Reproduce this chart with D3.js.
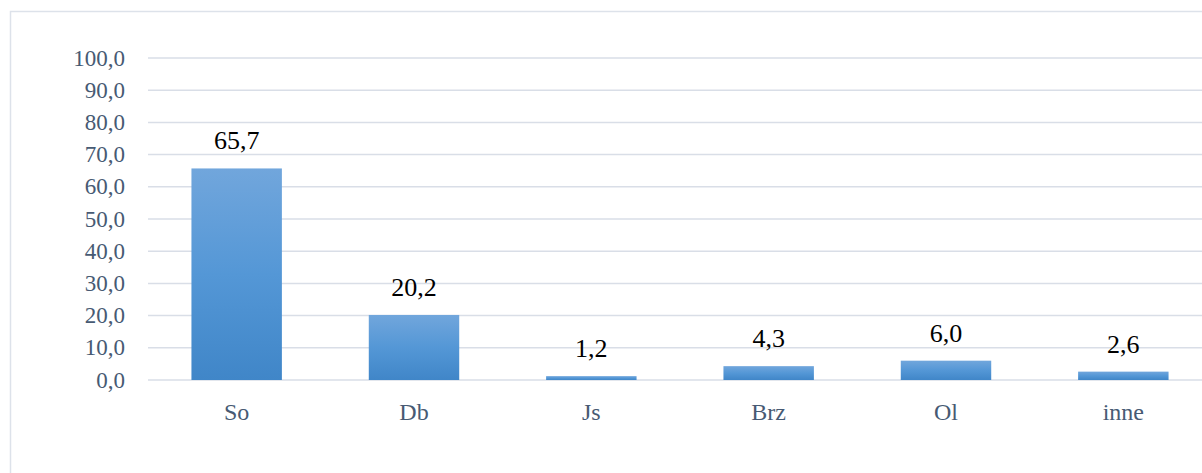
<!DOCTYPE html>
<html>
<head>
<meta charset="utf-8">
<script src="https://cdn.jsdelivr.net/npm/d3@7"></script>
<style>
  body { margin: 0; background: #fff; }
  svg { display: block; }
</style>
</head>
<body>
<div id="chart"></div>
<script>
let chart_width = 1202;
let chart_height = 473;

let categories = ['So', 'Db', 'Js', 'Brz', 'Ol', 'inne'];
let values = [65.7, 20.2, 1.2, 4.3, 6.0, 2.6];
let tick_values = [0, 10, 20, 30, 40, 50, 60, 70, 80, 90, 100];

let fmt = v => v.toFixed(1).replace('.', ',');

let svg = d3.select('#chart')
    .append('svg')
    .attr('width', chart_width)
    .attr('height', chart_height);

// gradient for bars
let grad = svg.append('defs')
    .append('linearGradient')
    .attr('id', 'barGrad')
    .attr('x1', 0).attr('y1', 0).attr('x2', 0).attr('y2', 1);
grad.append('stop').attr('offset', '0%').attr('stop-color', '#71a6dc');
grad.append('stop').attr('offset', '50%').attr('stop-color', '#5497d6');
grad.append('stop').attr('offset', '100%').attr('stop-color', '#4086c8');

// chart border (runs off the page at right and bottom)
svg.append('rect')
    .attr('x', 10.5)
    .attr('y', 11.5)
    .attr('width', 1300)
    .attr('height', 600)
    .attr('fill', 'none')
    .attr('stroke', '#dde2ea')
    .attr('stroke-width', 1.5);

let xScale = d3.scaleBand().domain(categories).range([148, 1212]).paddingInner(0.49).paddingOuter(0.245);
let yScale = d3.scaleLinear().domain([0, 100]).range([380, 58]);

// grid
svg.append('g')
    .selectAll('line')
    .data(tick_values)
    .enter()
    .append('line')
    .attr('x1', 148)
    .attr('x2', 1212)
    .attr('y1', d => yScale(d))
    .attr('y2', d => yScale(d))
    .attr('stroke', '#d9dee7')
    .attr('stroke-width', 1.5);

// y axis labels
svg.append('g')
    .selectAll('text')
    .data(tick_values)
    .enter()
    .append('text')
    .text(d => fmt(d))
    .attr('x', 125)
    .attr('y', d => yScale(d) + 7.5)
    .attr('text-anchor', 'end')
    .attr('fill', '#475a73')
    .style('font-family', '"Liberation Serif", serif')
    .style('font-size', '23px');

// bars
svg.append('g')
    .selectAll('rect')
    .data(values)
    .enter()
    .append('rect')
    .attr('x', (d, i) => xScale(categories[i]))
    .attr('y', d => yScale(d))
    .attr('width', xScale.bandwidth())
    .attr('height', d => yScale(0) - yScale(d))
    .attr('fill', 'url(#barGrad)');

// value labels
svg.append('g')
    .selectAll('text')
    .data(values)
    .enter()
    .append('text')
    .text(d => fmt(d))
    .attr('x', (d, i) => xScale(categories[i]) + xScale.bandwidth() / 2)
    .attr('y', d => yScale(d) - 19)
    .attr('text-anchor', 'middle')
    .attr('fill', '#000')
    .style('font-family', '"Liberation Serif", serif')
    .style('font-size', '26px');

// category labels
svg.append('g')
    .selectAll('text')
    .data(categories)
    .enter()
    .append('text')
    .text(d => d)
    .attr('x', d => xScale(d) + xScale.bandwidth() / 2)
    .attr('y', 420)
    .attr('text-anchor', 'middle')
    .attr('fill', '#475a73')
    .style('font-family', '"Liberation Serif", serif')
    .style('font-size', '24px');
</script>
</body>
</html>
